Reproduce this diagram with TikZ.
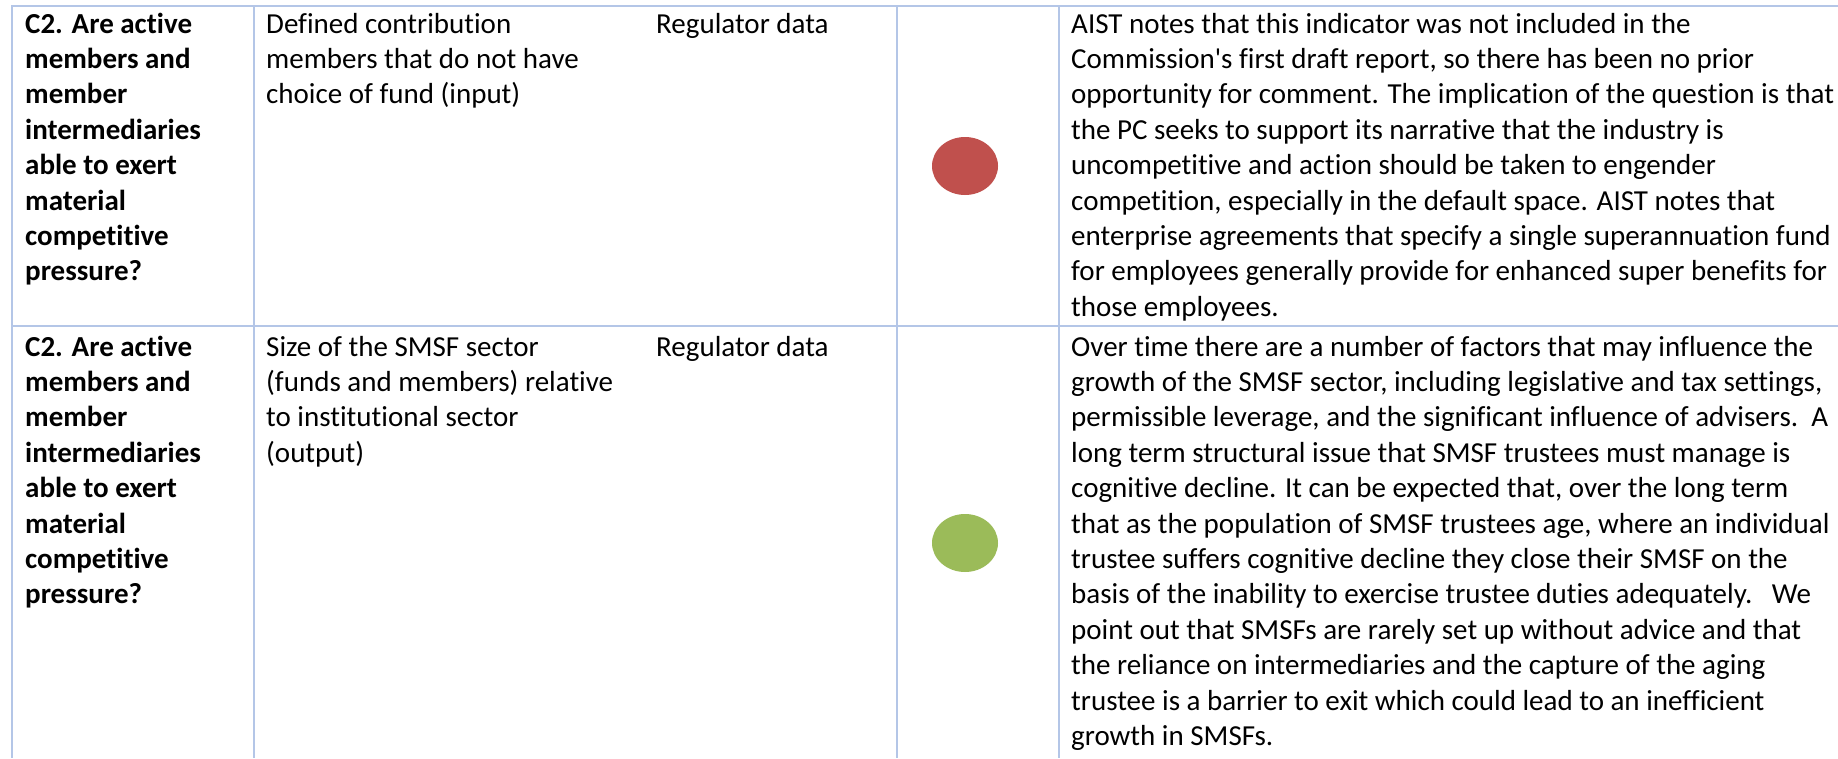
\documentclass[tikz,border=0pt]{standalone}
\usepackage{fontspec}
\setmainfont{Carlito}[Ligatures={NoCommon,TeXOff}]
\usetikzlibrary{shapes.geometric}
\definecolor{gridblue}{HTML}{B4C6E7}
\definecolor{dotred}{HTML}{C0504D}
\definecolor{dotgreen}{HTML}{9BBB59}
\begin{document}
\begin{tikzpicture}[x=1pt,y=-1pt,
  grid/.style={draw=gridblue,line width=2pt},
  cell/.style={anchor=base west,inner sep=0pt,align=left,font=\fontsize{29pt}{35.4pt}\selectfont},
  qcell/.style={cell,font=\fontsize{29pt}{35.4pt}\selectfont\bfseries},
  dot/.style={ellipse,minimum width=66pt,minimum height=58pt,inner sep=0pt}
]
\useasboundingbox (0,0) rectangle (1838,758);
% grid
\draw[grid] (11,6) -- (1838,6);
\draw[grid] (11,326) -- (1838,326);
\draw[grid] (12,5) -- (12,758);
\draw[grid] (254,5) -- (254,758);
\draw[grid] (897,5) -- (897,758);
\draw[grid] (1059,5) -- (1059,758);
% row 1 (base anchor = baseline of the last line)
\node[qcell] (r1c1) at (25,280.8) {C2. Are active\\members and\\member\\intermediaries\\able to exert\\material\\competitive\\pressure?};
\node[cell] (r1c2) at (266,103.8) {Defined contribution\\members that do not have\\choice of fund (input)};
\node[cell] (r1c3) at (656,33) {Regulator data};
\node[dot,fill=dotred] (r1c4) at (965,166) {};
\node[cell] (r1c5) at (1071,316.2) {AIST notes that this indicator was not included in the\\
Commission's first draft report, so there has been no prior\\
opportunity for comment. The implication of the question is that\\
the PC seeks to support its narrative that the industry is\\
uncompetitive and action should be taken to engender\\
competition, especially in the default space. AIST notes that\\
enterprise agreements that specify a single superannuation fund\\
for employees generally provide for enhanced super benefits for\\
those employees.};
% row 2
\node[qcell] (r2c1) at (25,603.8) {C2. Are active\\members and\\member\\intermediaries\\able to exert\\material\\competitive\\pressure?};
\node[cell] (r2c2) at (266,462.2) {Size of the SMSF sector\\(funds and members) relative\\to institutional sector\\(output)};
\node[cell] (r2c3) at (656,356) {Regulator data};
\node[dot,fill=dotgreen] (r2c4) at (965,543) {};
\node[cell] (r2c5) at (1071,745.4) {Over time there are a number of factors that may influence the\\
growth of the SMSF sector, including legislative and tax settings,\\
permissible leverage, and the significant influence of advisers.\ \ A\\
long term structural issue that SMSF trustees must manage is\\
cognitive decline. It can be expected that, over the long term\\
that as the population of SMSF trustees age, where an individual\\
trustee suffers cognitive decline they close their SMSF on the\\
basis of the inability to exercise trustee duties adequately.\ \ \ We\\
point out that SMSFs are rarely set up without advice and that\\
the reliance on intermediaries and the capture of the aging\\
trustee is a barrier to exit which could lead to an inefficient\\
growth in SMSFs.};
\end{tikzpicture}
\end{document}
